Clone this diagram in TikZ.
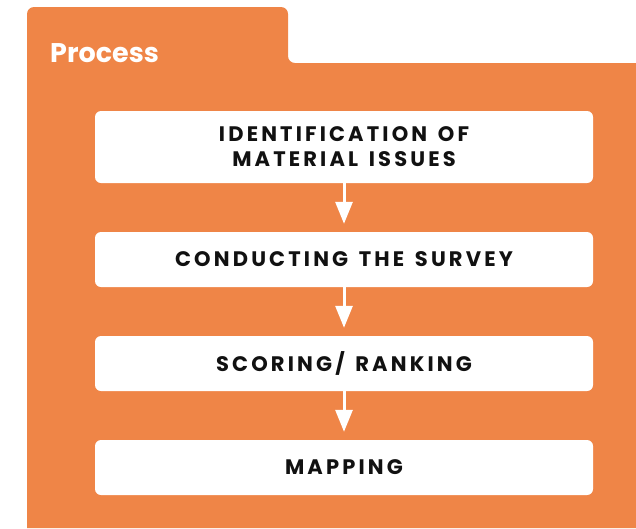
\documentclass[tikz,border=0pt]{standalone}
\usepackage{fontspec}
\setmainfont{Poppins}
\newfontfamily\stagefont[LetterSpace=15, WordSpace=1.4]{Poppins}
\usepackage{tikz}
\usetikzlibrary{arrows.meta}
\definecolor{folderorange}{HTML}{EF8547}
\definecolor{stagetext}{HTML}{111111}

\tikzset{
  stagebox/.style={rectangle, rounded corners=6pt, fill=white, minimum width=498pt, text=stagetext, font=\stagefont\bfseries\fontsize{21}{25}\selectfont, align=center},
  flow/.style={draw=white, line width=3pt, -{Triangle[width=17pt,length=22pt]}, shorten >=8pt}
}

\begin{document}
\begin{tikzpicture}[x=1pt, y=-1pt]
    \useasboundingbox (0,0) rectangle (636,528);
    % Folder background
    \fill [folderorange] (27,528) {[rounded corners=7pt] -- (27,7) -- (288,7) -- (288,63)} -- (636,63) -- (636,528) -- cycle;
    \node [anchor=base west, text=white, font=\bfseries\fontsize{27}{30}\selectfont, inner sep=0pt] (title) at (50,62) {Process};
    % Place nodes
    \node [stagebox, minimum height=72pt] (identify) at (344,147) {IDENTIFICATION OF\\MATERIAL ISSUES};
    \node [stagebox, minimum height=55pt] (survey) at (344,259.5) {CONDUCTING THE SURVEY};
    \node [stagebox, minimum height=55pt] (scoring) at (344,363.5) {SCORING/ RANKING};
    \node [stagebox, minimum height=55pt] (mapping) at (344,467.5) {MAPPING};
    % Draw arrows
    \path [flow] (identify) -- (survey);
    \path [flow] (survey) -- (scoring);
    \path [flow] (scoring) -- (mapping);
\end{tikzpicture}
\end{document}
